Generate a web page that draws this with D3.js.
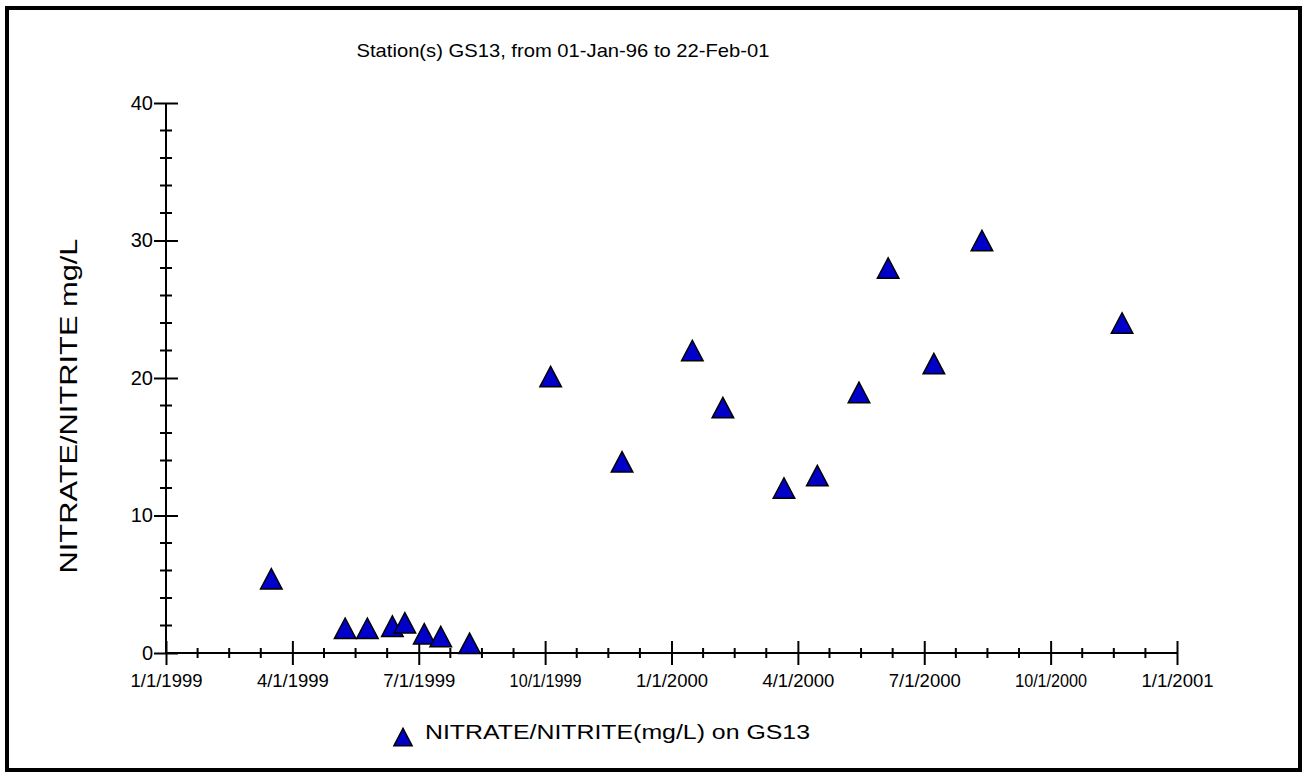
<!DOCTYPE html>
<html>
<head>
<meta charset="utf-8">
<script src="https://cdn.jsdelivr.net/npm/d3@7"></script>
<style>
  html, body { margin: 0; padding: 0; background: #fff; }
  svg { display: block; }
  text { font-family: "Liberation Sans", Arial, sans-serif; fill: #000; }
</style>
</head>
<body>
<svg id="chart" width="1307" height="777"></svg>
<script>
// ---- data ----
const titleText = "Station(s) GS13, from 01-Jan-96 to 22-Feb-01";
const yAxisLabel = "NITRATE/NITRITE mg/L";
const legendLabel = "NITRATE/NITRITE(mg/L) on GS13";

const sampleDates = [
  "1999-03-17", "1999-05-09", "1999-05-25", "1999-06-12", "1999-06-21",
  "1999-07-05", "1999-07-17", "1999-08-07", "1999-10-05", "1999-11-26",
  "2000-01-16", "2000-02-07", "2000-03-22", "2000-04-15", "2000-05-15",
  "2000-06-05", "2000-07-08", "2000-08-12", "2000-11-22"
];
const nitrateValues = [
  5.4, 1.8, 1.8, 1.95, 2.2,
  1.4, 1.2, 0.7, 20.1, 13.9,
  22.0, 17.85, 12.0, 12.9, 18.95,
  28.0, 21.05, 30.0, 24.0
];
const xTickDates = [
  "1999-01-01", "1999-04-01", "1999-07-01", "1999-10-01", "2000-01-01",
  "2000-04-01", "2000-07-01", "2000-10-01", "2001-01-01"
];
const yTickValues = [0, 10, 20, 30, 40];
const yMinorValues = [2, 4, 6, 8, 12, 14, 16, 18, 22, 24, 26, 28, 32, 34, 36, 38];

// ---- layout ----
const svg = d3.select("#chart");
const plotLeft = 166, plotRight = 1177, plotTop = 103, plotBottom = 653;
const parse = d3.utcParse("%Y-%m-%d");
const qDates = xTickDates.map(parse);

const x = d3.scaleUtc()
  .domain(qDates)
  .range(qDates.map((d, i) => plotLeft + i * (plotRight - plotLeft) / (qDates.length - 1)));
const y = d3.scaleLinear().domain([0, 40]).range([plotBottom, plotTop]);

// frame
svg.append("rect")
  .attr("x", 7).attr("y", 8).attr("width", 1293).attr("height", 762)
  .attr("fill", "none").attr("stroke", "#000").attr("stroke-width", 4);

// title
svg.append("text")
  .attr("x", 563).attr("y", 57)
  .attr("text-anchor", "middle")
  .attr("font-size", 19)
  .attr("textLength", 413).attr("lengthAdjust", "spacingAndGlyphs")
  .text(titleText);

// y axis
const yAxis = d3.axisLeft(y).tickValues(yTickValues).tickFormat(d3.format("d"))
  .tickSize(12).tickSizeOuter(0).tickPadding(1);
const gy = svg.append("g").attr("transform", `translate(${plotLeft},0)`).call(yAxis);
gy.select(".domain").attr("stroke-width", 2).attr("d", `M0,${plotTop}V${plotBottom}`);
gy.selectAll(".tick line").attr("x1", -12).attr("x2", 12).attr("stroke-width", 2);
gy.selectAll(".tick text").attr("font-size", 20).attr("font-family", "Liberation Sans, Arial, sans-serif");
gy.selectAll(".minor").data(yMinorValues).enter().append("line")
  .attr("class", "minor")
  .attr("x1", -6).attr("x2", 6)
  .attr("y1", d => y(d)).attr("y2", d => y(d))
  .attr("stroke", "#000").attr("stroke-width", 2);

// x axis
const fmt = d => `${d.getUTCMonth() + 1}/${d.getUTCDate()}/${d.getUTCFullYear()}`;
const xAxis = d3.axisBottom(x).tickValues(qDates).tickFormat(fmt)
  .tickSize(12).tickSizeOuter(0).tickPadding(9);
const gx = svg.append("g").attr("transform", `translate(0,${plotBottom})`).call(xAxis);
gx.select(".domain").attr("stroke-width", 2).attr("d", `M${plotLeft - 1},0H${plotRight + 1}`);
gx.selectAll(".tick line").attr("y1", -12).attr("y2", 12).attr("stroke-width", 2);
gx.selectAll(".tick text").attr("font-size", 19).attr("font-family", "Liberation Sans, Arial, sans-serif")
  .attr("textLength", 72).attr("lengthAdjust", "spacingAndGlyphs");

// x minor ticks (3 per quarter)
const xMinor = [];
for (let i = 0; i < qDates.length - 1; i++) {
  const a = +qDates[i], b = +qDates[i + 1];
  for (let k = 1; k <= 3; k++) xMinor.push(new Date(a + (b - a) * k / 4));
}
gx.selectAll(".minor").data(xMinor).enter().append("line")
  .attr("class", "minor")
  .attr("x1", d => x(d)).attr("x2", d => x(d))
  .attr("y1", -5).attr("y2", 5)
  .attr("stroke", "#000").attr("stroke-width", 2);

// y axis label
svg.append("text")
  .attr("transform", `translate(77,406) rotate(-90)`)
  .attr("text-anchor", "middle")
  .attr("font-size", 24)
  .attr("textLength", 335).attr("lengthAdjust", "spacingAndGlyphs")
  .text(yAxisLabel);

// markers: bbox-centred triangle, ~22 wide x 21 tall
const triType = {
  draw(ctx, size) {
    const h = Math.sqrt(size) / 2;      // half height
    const w = h * 1.05;                 // half width
    ctx.moveTo(0, -h);
    ctx.lineTo(w, h);
    ctx.lineTo(-w, h);
    ctx.closePath();
  }
};
const tri = d3.symbol().type(triType).size(420);
const triLegend = d3.symbol().type(triType).size(300);
const pts = sampleDates.map((d, i) => ({ date: parse(d), value: nitrateValues[i] }));
svg.append("g").selectAll("path").data(pts).enter().append("path")
  .attr("d", tri)
  .attr("transform", d => `translate(${x(d.date)},${y(d.value)})`)
  .attr("fill", "#0000c8").attr("stroke", "#000").attr("stroke-width", 1.5)
  .attr("stroke-linejoin", "miter");

// legend
svg.append("path").attr("d", triLegend)
  .attr("transform", "translate(403,737)")
  .attr("fill", "#0000c8").attr("stroke", "#000").attr("stroke-width", 1.5);
svg.append("text")
  .attr("x", 425).attr("y", 739)
  .attr("font-size", 20)
  .attr("textLength", 385).attr("lengthAdjust", "spacingAndGlyphs")
  .text(legendLabel);
</script>
</body>
</html>
